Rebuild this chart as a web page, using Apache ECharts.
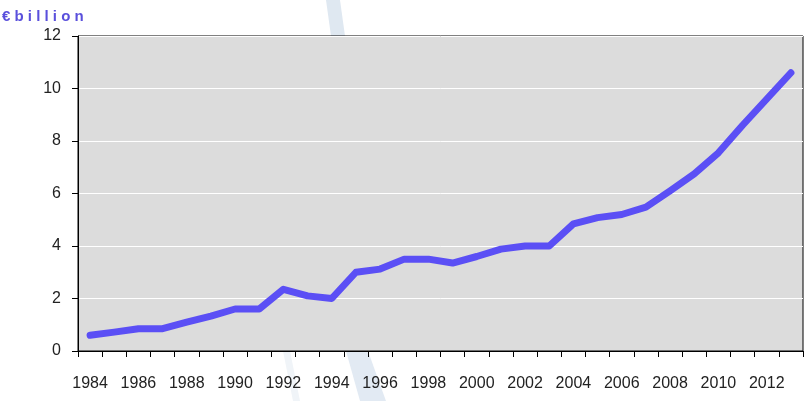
<!DOCTYPE html>
<html><head><meta charset="utf-8">
<script src="https://cdn.jsdelivr.net/npm/echarts@6/dist/echarts.min.js"></script>
<style>html,body{margin:0;padding:0;background:#fff}#c{width:808px;height:401px}</style>
</head><body><div id="c"></div>
<script>
const years = ['1984','1985','1986','1987','1988','1989','1990','1991','1992','1993','1994','1995','1996','1997','1998','1999','2000','2001','2002','2003','2004','2005','2006','2007','2008','2009','2010','2011','2012','2013'];
const values = [0.6,0.72,0.85,0.85,1.1,1.33,1.6,1.6,2.35,2.1,2.0,3.0,3.12,3.5,3.5,3.35,3.6,3.88,4.0,4.0,4.84,5.08,5.2,5.48,6.1,6.75,7.55,8.6,9.6,10.6];
const yTicks = [0,2,4,6,8,10,12];
const unitLabel = '€ b i l l i o n';

const chart = echarts.init(document.getElementById('c'), null, {renderer:'canvas'});
chart.setOption({
  animation:false,
  backgroundColor:'#ffffff',
  textStyle:{fontFamily:'Liberation Sans, Arial, sans-serif'},
  graphic:[
    {type:'polygon', z:-10, silent:true, shape:{points:[[326,0],[340,0],[345,36],[331,36]]}, style:{fill:'#dfe8f1'}},
    {type:'polygon', z:-10, silent:true, shape:{points:[[346,351],[368,351],[386,401],[360,401]]}, style:{fill:'#e2eaf3'}},
    {type:'polygon', z:-10, silent:true, shape:{points:[[283,351],[290,351],[300,401],[293,401]]}, style:{fill:'#f0f4f8'}},
    {type:'text', left:2, top:9, z:10, style:{text:unitLabel, fill:'#5a50dc', font:'bold 15px Liberation Sans, Arial, sans-serif'}}
  ],
  grid:{left:78, right:5, top:36, bottom:50, show:true, backgroundColor:'#dcdcdc', borderColor:'#000', borderWidth:1},
  xAxis:{
    type:'category', data:years, boundaryGap:true,
    axisLine:{lineStyle:{color:'#000', width:1}},
    axisTick:{show:true, interval:0, length:6, lineStyle:{color:'#000'}},
    axisLabel:{interval:1, color:'#222', fontSize:16, margin:25},
    splitLine:{show:false}
  },
  yAxis:{
    type:'value', min:0, max:12, interval:2,
    axisLine:{show:true, lineStyle:{color:'#000'}},
    axisTick:{show:true, length:6, lineStyle:{color:'#000'}},
    axisLabel:{color:'#222', fontSize:16, margin:17, formatter:function(v){return yTicks.indexOf(v)>=0?String(v):'';}},
    splitLine:{show:true, lineStyle:{color:'#ffffff', width:1}}
  },
  series:[{
    type:'line', data:values, symbol:'none', smooth:false,
    lineStyle:{color:'#5b4ff5', width:7, cap:'round', join:'round'}
  }]
});
</script></body></html>
